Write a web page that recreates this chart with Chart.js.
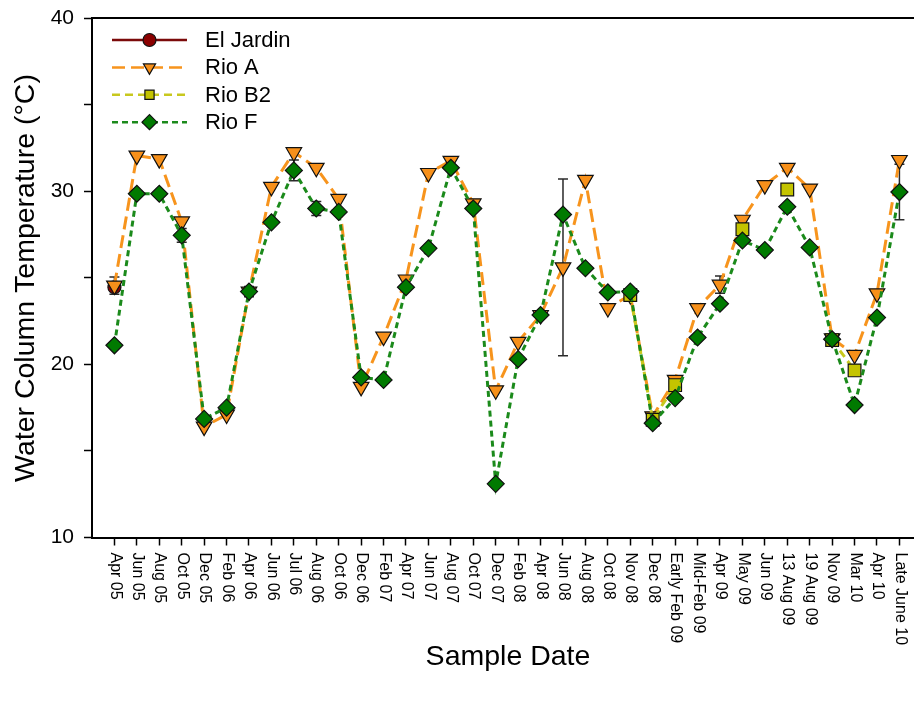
<!DOCTYPE html>
<html>
<head>
<meta charset="utf-8">
<script src="https://cdn.jsdelivr.net/npm/chart.js@4/dist/chart.umd.min.js"></script>
<style>
html,body{margin:0;padding:0;background:#fff;}
#wrap{width:914px;height:702px;position:relative;}
</style>
</head>
<body>
<div id="wrap"><canvas id="c" width="914" height="702"></canvas></div>
<script>
// ---------- DATA ----------
const sampleDates = ["Apr 05","Jun 05","Aug 05","Oct 05","Dec 05","Feb 06","Apr 06","Jun 06","Jul 06","Aug 06",
  "Oct 06","Dec 06","Feb 07","Apr 07","Jun 07","Aug 07","Oct 07","Dec 07","Feb 08","Apr 08",
  "Jun 08","Aug 08","Oct 08","Nov 08","Dec 08","Early Feb 09","Mid-Feb 09","Apr 09","May 09","Jun 09",
  "13 Aug 09","19 Aug 09","Nov 09","Mar 10","Apr 10","Late June 10"];

const elJardin = [24.45,null,null,null,null,null,null,null,null,null,
  null,null,null,null,null,null,null,null,null,null,
  null,null,null,null,null,null,null,null,null,null,
  null,null,null,null,null,null];

const rioA = [24.55,32.05,31.85,28.25,16.4,17.1,24.2,30.25,32.25,31.35,
  29.55,18.7,21.6,24.9,31.05,31.75,29.3,18.5,21.3,22.85,
  25.6,30.65,23.25,24.0,17.0,19.1,23.25,24.6,28.35,30.35,
  31.35,30.15,21.5,20.55,24.1,31.8];

const rioB2 = [null,null,null,null,null,null,null,null,null,null,
  null,null,null,null,null,null,null,null,null,null,
  null,null,null,24.0,16.8,18.8,null,null,27.8,null,
  30.1,null,21.4,19.65,null,null];

const rioF = [21.1,29.85,29.85,27.45,16.85,17.5,24.2,28.2,31.2,29.0,
  28.8,19.25,19.1,24.45,26.7,31.35,29.0,13.1,20.3,22.85,
  28.65,25.55,24.15,24.2,16.6,18.05,21.55,23.5,27.15,26.6,
  29.1,26.75,21.45,17.65,22.7,29.95];

// error bar half-widths (± °C)
const errRioA = [0.5,null,null,null,null,null,null,null,null,null,
  null,null,null,null,null,null,null,null,null,null,
  5.1,null,null,null,null,null,null,0.5,null,null,
  0.2,null,null,null,null,null];
const errRioB2 = [null,null,null,null,null,null,null,null,null,null,
  null,null,null,null,null,null,null,null,null,null,
  null,null,null,null,null,0.3,null,null,0.3,null,
  null,null,null,null,null,null];
const errRioF = [null,null,null,0.4,null,null,0.3,null,0.6,0.4,
  null,null,null,null,null,null,null,null,null,null,
  null,null,null,null,null,null,null,null,null,null,
  null,null,null,null,null,1.6];

const yTickValues = [10,20,30,40];

// ---------- CHART ----------
const FONT = '"Liberation Sans", Arial, Helvetica, sans-serif';
const toPts = arr => arr.map((v,i)=>({x:i,y:v}));

const datasets = [
  {label:'El Jardin', data:toPts(elJardin), err:null, borderColor:'#7B0A0A', backgroundColor:'#8B0000',
   pointStyle:'circle', pointRadius:6.5, pointRotation:0, borderWidth:2.5, borderDash:[], order:3},
  {label:'Rio A', data:toPts(rioA), err:errRioA, borderColor:'#F7941D', backgroundColor:'#F7901A',
   pointStyle:'triangle', pointRadius:9, pointRotation:180, borderWidth:3, borderDash:[13,6], order:2},
  {label:'Rio B2', data:toPts(rioB2), err:errRioB2, borderColor:'#C8C81E', backgroundColor:'#C4C400',
   pointStyle:'rect', pointRadius:9, pointRotation:0, borderWidth:3, borderDash:[8,5], order:1},
  {label:'Rio F', data:toPts(rioF), err:errRioF, borderColor:'#1B8A1B', backgroundColor:'#007A00',
   pointStyle:'rectRot', pointRadius:8.5, pointRotation:0, borderWidth:3, borderDash:[6,4], order:0}
];
datasets.forEach(d=>{
  d.pointBackgroundColor = d.backgroundColor;
  d.pointBorderColor = '#111';
  d.pointBorderWidth = 1.2;
  d.pointHoverRadius = d.pointRadius;
  d.tension = 0;
  d.spanGaps = false;
  d.fill = false;
});

function legendMarker(ctx, style, x, y, r, rot){
  ctx.beginPath();
  if(style==='circle'){ ctx.arc(x,y,r,0,Math.PI*2); }
  else if(style==='triangle'){
    let a = rot*Math.PI/180;
    for(let k=0;k<3;k++){ const px=x+Math.sin(a)*r, py=y-Math.cos(a)*r; k?ctx.lineTo(px,py):ctx.moveTo(px,py); a+=2*Math.PI/3; }
    ctx.closePath();
  }
  else if(style==='rect'){ const s=r*Math.SQRT1_2; ctx.rect(x-s,y-s,2*s,2*s); }
  else if(style==='rectRot'){ ctx.moveTo(x-r,y); ctx.lineTo(x,y-r); ctx.lineTo(x+r,y); ctx.lineTo(x,y+r); ctx.closePath(); }
  ctx.fill(); ctx.stroke();
}

const overlay = {
  id:'overlay',
  beforeDatasetsDraw(chart){
    const ctx = chart.ctx, xs = chart.scales.x, ys = chart.scales.y;
    ctx.save();
    ctx.strokeStyle = '#2a2a2a'; ctx.lineWidth = 1.5; ctx.setLineDash([]);
    chart.data.datasets.forEach(ds=>{
      if(!ds.err) return;
      ds.err.forEach((e,i)=>{
        const v = ds.data[i].y;
        if(e==null || v==null) return;
        const x = xs.getPixelForValue(i), y1 = ys.getPixelForValue(v+e), y2 = ys.getPixelForValue(v-e);
        ctx.beginPath();
        ctx.moveTo(x,y1); ctx.lineTo(x,y2);
        ctx.moveTo(x-5,y1); ctx.lineTo(x+5,y1);
        ctx.moveTo(x-5,y2); ctx.lineTo(x+5,y2);
        ctx.stroke();
      });
    });
    ctx.restore();
  },
  afterDraw(chart){
    const ctx = chart.ctx, a = chart.chartArea, xs = chart.scales.x;
    ctx.save();
    // top frame line
    ctx.strokeStyle = '#000'; ctx.lineWidth = 2; ctx.setLineDash([]);
    ctx.beginPath(); ctx.moveTo(a.left-1, a.top); ctx.lineTo(chart.width, a.top); ctx.stroke();
    // x tick labels (rotated clockwise)
    ctx.fillStyle = '#000';
    ctx.font = '16px ' + FONT;
    ctx.textAlign = 'left'; ctx.textBaseline = 'middle';
    sampleDates.forEach((lab,i)=>{
      const x = xs.getPixelForValue(i);
      ctx.save(); ctx.translate(x+0.5, a.bottom + 15); ctx.rotate(Math.PI/2);
      ctx.fillText(lab, 0, 0); ctx.restore();
    });
    // axis titles
    ctx.font = '28.5px ' + FONT;
    ctx.textAlign = 'center'; ctx.textBaseline = 'middle';
    ctx.fillText('Sample Date', 508, 657);
    ctx.save(); ctx.translate(26, 278); ctx.rotate(-Math.PI/2);
    ctx.fillText('Water Column Temperature (\u00B0C)', 0, 0); ctx.restore();
    // legend
    const lx0 = 112, lx1 = 187, mx = 149.5, tx = 205;
    const sizes = [6.5, 7, 6.5, 7.5];
    chart.data.datasets.forEach((ds,k)=>{
      const y = 40 + k*27.4;
      ctx.strokeStyle = ds.borderColor; ctx.lineWidth = 2.5;
      ctx.setLineDash(ds.borderDash);
      ctx.beginPath(); ctx.moveTo(lx0,y); ctx.lineTo(lx1,y); ctx.stroke();
      ctx.setLineDash([]);
      ctx.fillStyle = ds.backgroundColor; ctx.strokeStyle = '#111'; ctx.lineWidth = 1.2;
      legendMarker(ctx, ds.pointStyle, mx, y, sizes[k], ds.pointRotation);
      ctx.fillStyle = '#000'; ctx.font = '22px ' + FONT;
      ctx.textAlign = 'left'; ctx.textBaseline = 'middle';
      ctx.fillText(ds.label, tx, y+1);
    });
    ctx.restore();
  }
};

new Chart(document.getElementById('c'), {
  type:'line',
  data:{datasets:datasets},
  options:{
    responsive:false, animation:false, devicePixelRatio:1, events:[],
    layout:{padding:{top:18,right:0,bottom:0,left:0}, autoPadding:false},
    plugins:{legend:{display:false}, tooltip:{enabled:false}, title:{display:false}},
    scales:{
      x:{type:'linear', position:'bottom', min:-1, max:35.65,
         afterBuildTicks:s=>{ s.ticks = sampleDates.map((_,i)=>({value:i})); },
         afterFit:s=>{ s.height = 164.5; s.paddingLeft = 0; s.paddingRight = 0; },
         ticks:{display:false},
         grid:{display:true, drawOnChartArea:false, drawTicks:true, tickLength:8, tickColor:'#000', tickWidth:1.5},
         border:{display:true, color:'#000', width:2}},
      y:{type:'linear', min:10, max:40,
         afterBuildTicks:s=>{ const t=[]; for(let v=10; v<=40; v+=5) t.push({value:v}); s.ticks=t; },
         afterFit:s=>{ s.width = 92; s.paddingTop = 0; s.paddingBottom = 0; },
         ticks:{stepSize:5, padding:10, color:'#000', font:{size:21, family:FONT},
                callback:v=> yTickValues.includes(v) ? String(v) : ''},
         grid:{display:true, drawOnChartArea:false, drawTicks:true, tickLength:8, tickColor:'#000', tickWidth:1.5},
         border:{display:true, color:'#000', width:2}}
    }
  },
  plugins:[overlay]
});
</script>
</body>
</html>
